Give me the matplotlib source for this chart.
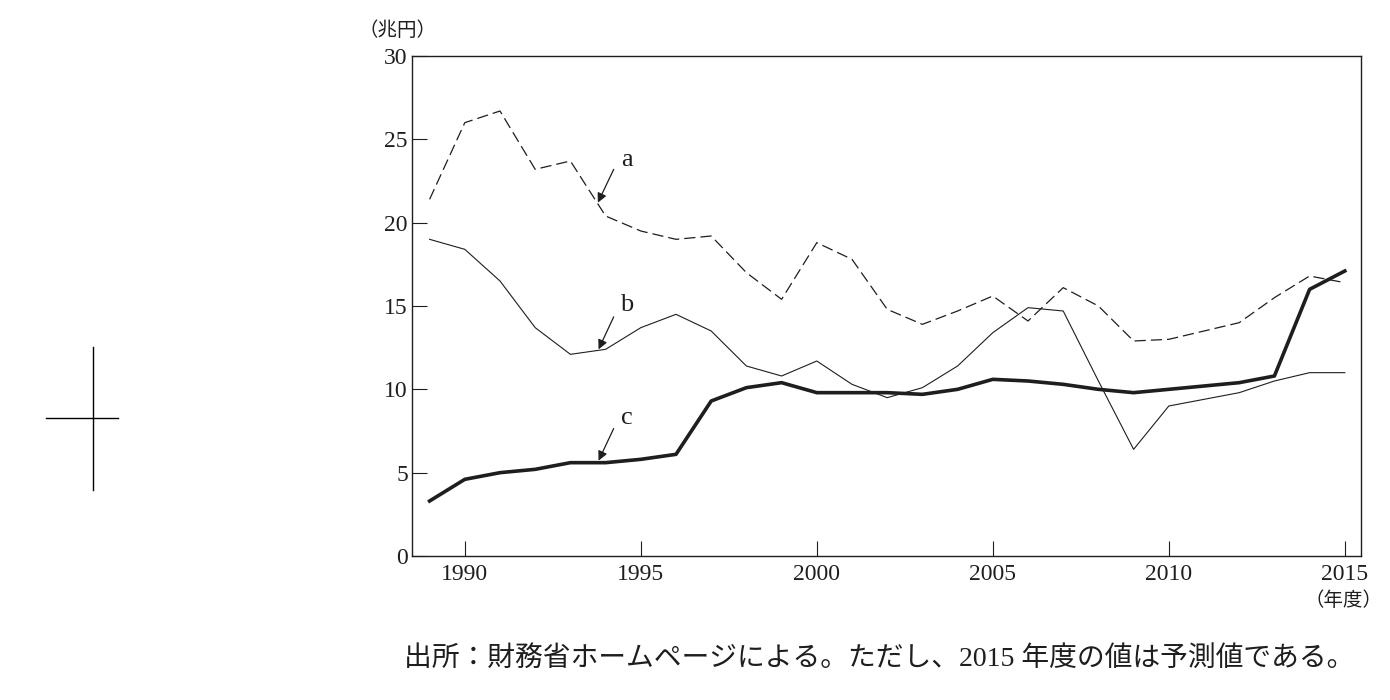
import matplotlib
matplotlib.use("Agg")
import matplotlib.pyplot as plt
from matplotlib.lines import Line2D

# 年度
years = list(range(1989, 2016))

# a: 破線
series_a = [21.4, 26.0, 26.7, 23.2, 23.7, 20.4, 19.5, 19.0, 19.2, 17.0,
            15.4, 18.8, 17.8, 14.8, 13.9, 14.7, 15.6, 14.1, 16.1, 15.0,
            12.9, 13.0, 13.5, 14.0, 15.5, 16.8, 16.4]
# b: 細線
series_b = [19.0, 18.4, 16.5, 13.7, 12.1, 12.4, 13.7, 14.5, 13.5, 11.4,
            10.8, 11.7, 10.3, 9.5, 10.1, 11.4, 13.4, 14.9, 14.7, 10.5,
            6.4, 9.0, 9.4, 9.8, 10.5, 11.0, 11.0]
# c: 太線
series_c = [3.3, 4.6, 5.0, 5.2, 5.6, 5.6, 5.8, 6.1, 9.3, 10.1,
            10.4, 9.8, 9.8, 9.8, 9.7, 10.0, 10.6, 10.5, 10.3, 10.0,
            9.8, 10.0, 10.2, 10.4, 10.8, 16.0, 17.1]

x_ticks = [1990, 1995, 2000, 2005, 2010, 2015]
y_ticks = [0, 5, 10, 15, 20, 25, 30]

# ラベル a, b, c の位置 (文字, 矢印の始点, 矢印の先)
labels = ["a", "b", "c"]
label_xy = [(1994.6, 23.75), (1994.6, 15.05), (1994.6, 8.3)]
arrow_from = [(1994.23, 23.2), (1994.23, 14.35), (1994.23, 7.65)]
arrow_to = [(1993.78, 21.2), (1993.8, 12.4), (1993.8, 5.72)]

ink = "#1e1e1e"
serif = "Liberation Serif"
jp = ["Liberation Serif", "Noto Sans CJK JP"]

fig = plt.figure(figsize=(13.9, 7.0), dpi=100)
ax = fig.add_axes([412 / 1390, (700 - 556) / 700, (1361 - 412) / 1390, 500 / 700])

ax.plot(years, series_a, color=ink, lw=0.9, linestyle=(0, (9, 4)))
ax.plot(years, series_b, color=ink, lw=0.8)
ax.plot(years, series_c, color=ink, lw=2.6, solid_joinstyle="round")

ax.set_xlim(1988.5, 2015.46)
ax.set_ylim(0, 30)
ax.set_xticks(x_ticks)
ax.set_yticks(y_ticks)
ax.tick_params(direction="in", length=11, width=0.8, color=ink, labelcolor=ink, labelsize=17)
ax.tick_params(axis="y", pad=3)
ax.tick_params(axis="x", pad=6)
for lab in ax.get_xticklabels() + ax.get_yticklabels():
    lab.set_family(serif)
for sp in ax.spines.values():
    sp.set_linewidth(1.0)
    sp.set_color(ink)

for name, txy, a0, a1 in zip(labels, label_xy, arrow_from, arrow_to):
    ax.text(txy[0], txy[1], name, fontsize=19, family=serif, color=ink,
            ha="center", va="center")
    ax.annotate("", xy=a1, xytext=a0,
                arrowprops=dict(arrowstyle="-|>", color=ink, lw=0.9,
                                mutation_scale=14, shrinkA=0, shrinkB=0))

fig.text(397 / 1390, 1 - 30 / 700, "（兆円）", fontsize=14, family="Noto Sans CJK JP",
         color=ink, ha="center", va="center")
fig.text(1344 / 1390, 1 - 600 / 700, "（年度）", fontsize=14, family="Noto Sans CJK JP",
         color=ink, ha="center", va="center")
fig.text(879 / 1390, 1 - 659 / 700,
         "出所：財務省ホームページによる。ただし、2015 年度の値は予測値である。",
         fontsize=20, family=jp, color=ink, ha="center", va="center")

# 左側のトンボ
fig.add_artist(Line2D([46 / 1390, 118 / 1390], [1 - 418 / 700, 1 - 418 / 700],
                      color="black", lw=1.0))
fig.add_artist(Line2D([93 / 1390, 93 / 1390], [1 - 347 / 700, 1 - 490 / 700],
                      color="black", lw=1.0))

fig.savefig("out.png", dpi=100, facecolor="white")
